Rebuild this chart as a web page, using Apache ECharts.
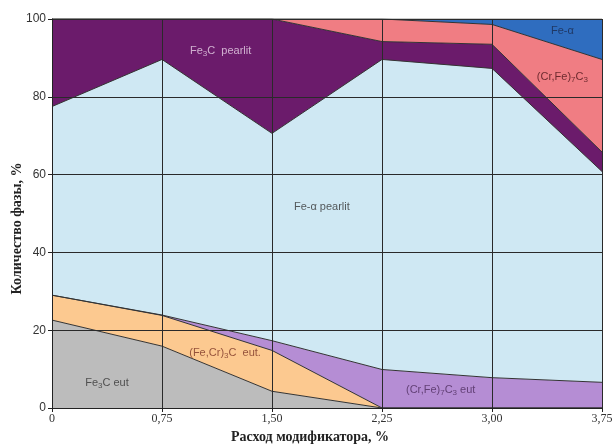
<!DOCTYPE html>
<html>
<head>
<meta charset="utf-8">
<script src="https://cdn.jsdelivr.net/npm/echarts@6/dist/echarts.min.js"></script>
<style>
html, body { margin: 0; padding: 0; background: #ffffff; }
#chart { width: 612px; height: 448px; }
</style>
</head>
<body>
<div id="chart"></div>
<script>
// Modifier consumption, % (category ticks)
const categories = ['0', '0,75', '1,50', '2,25', '3,00', '3,75'];

// Phase amounts, % (stacked from bottom to top)
const fe3cEut        = [22.6, 15.9, 4.3, 0, 0, 0];
const feCr3cEut      = [6.4, 7.9, 10.5, 0, 0, 0];
const crFe7c3Eut     = [0, 0.1, 2.5, 9.9, 7.8, 6.6];
const feAlphaPearlit = [48.5, 65.7, 53.3, 79.7, 79.5, 54.2];
const fe3cPearlit    = [22.5, 10.4, 29.4, 4.6, 6.2, 5.0];
const crFe7c3        = [0, 0, 0, 5.8, 5.1, 23.8];
const feAlpha        = [0, 0, 0, 0, 1.4, 10.4];

// Y axis ticks
const yTicks = [0, 20, 40, 60, 80, 100];

const chart = echarts.init(document.getElementById('chart'), null, { renderer: 'canvas' });

const edge = { color: '#333333', width: 1 };

function layer(name, values, fill) {
  return {
    name: name,
    type: 'line',
    stack: 'phases',
    xAxisIndex: 0,
    yAxisIndex: 0,
    data: values,
    symbol: 'none',
    smooth: false,
    lineStyle: edge,
    areaStyle: { color: fill, opacity: 1 },
    z: 2
  };
}

const richBase = {
  t: { fontSize: 11, lineHeight: 14, fontFamily: 'Liberation Sans' },
  s: { fontSize: 8, lineHeight: 9, verticalAlign: 'bottom', fontFamily: 'Liberation Sans' }
};

function note(x, y, text, color) {
  return {
    value: [x, y],
    label: { show: true, formatter: text, color: color, rich: richBase }
  };
}

const option = {
  backgroundColor: '#ffffff',
  animation: false,
  grid: { left: 52, right: 10, top: 19, bottom: 40, containLabel: false, outerBoundsMode: 'none' },
  xAxis: [
    {
      type: 'category',
      data: categories,
      boundaryGap: false,
      z: 5,
      name: 'Расход модификатора, %',
      nameLocation: 'middle',
      nameGap: 21,
      nameTextStyle: {
        fontFamily: 'Liberation Serif', fontSize: 14, fontWeight: 'bold', color: '#222222',
        padding: [0, 34, 0, 0]
      },
      axisLine: { show: true, lineStyle: { color: '#222222', width: 1 } },
      axisTick: { show: true, alignWithLabel: true, length: 4, lineStyle: { color: '#222222' } },
      axisLabel: { fontFamily: 'Liberation Serif', fontSize: 12, color: '#333333', margin: 5 },
      splitLine: { show: true, lineStyle: { color: '#2a2a2a', width: 1 } }
    },
    {
      type: 'value',
      min: 0, max: 3.75,
      show: false
    }
  ],
  yAxis: {
    type: 'value',
    min: yTicks[0],
    max: yTicks[yTicks.length - 1],
    interval: yTicks[1] - yTicks[0],
    z: 5,
    name: 'Количество фазы, %',
    nameLocation: 'middle',
    nameGap: 28,
    nameMoveOverlap: false,
    nameTextStyle: {
      fontFamily: 'Liberation Serif', fontSize: 14, fontWeight: 'bold', color: '#222222',
      padding: [0, 30, 0, 0]
    },
    axisLine: { show: true, lineStyle: { color: '#222222', width: 1 } },
    axisTick: { show: true, length: 4, lineStyle: { color: '#222222' } },
    axisLabel: { fontFamily: 'Liberation Sans', fontSize: 12, color: '#333333', margin: 6 },
    splitLine: { show: true, lineStyle: { color: '#2a2a2a', width: 1 } }
  },
  series: [
    layer('Fe3C eut', fe3cEut, '#bcbcbc'),
    layer('(Fe,Cr)3C eut.', feCr3cEut, '#fcc990'),
    layer('(Cr,Fe)7C3 eut', crFe7c3Eut, '#b58dd4'),
    layer('Fe-α pearlit', feAlphaPearlit, '#cfe8f3'),
    layer('Fe3C pearlit', fe3cPearlit, '#6b1b6b'),
    layer('(Cr,Fe)7C3', crFe7c3, '#f07d83'),
    layer('Fe-α', feAlpha, '#2f6dbf'),
    {
      name: 'phase names',
      type: 'scatter',
      xAxisIndex: 1,
      yAxisIndex: 0,
      symbolSize: 0,
      silent: true,
      z: 10,
      label: { show: true, position: 'inside' },
      data: [
        note(1.15, 91.8, '{t|Fe}{s|3}{t|C  pearlit}', '#e8d4e8'),
        note(1.84, 51.7, '{t|Fe-α pearlit}', '#333333'),
        note(0.375, 6.5, '{t|Fe}{s|3}{t|C eut}', '#333333'),
        note(1.18, 14.2, '{t|(Fe,Cr)}{s|3}{t|C  eut.}', '#7a3526'),
        note(2.65, 4.7, '{t|(Cr,Fe)}{s|7}{t|C}{s|3}{t| eut}', '#4d2d5e'),
        note(3.48, 97.0, '{t|Fe-α}', '#1c2b4d'),
        note(3.48, 85.1, '{t|(Cr,Fe)}{s|7}{t|C}{s|3}', '#4a1418')
      ]
    }
  ]
};

chart.setOption(option);
</script>
</body>
</html>
